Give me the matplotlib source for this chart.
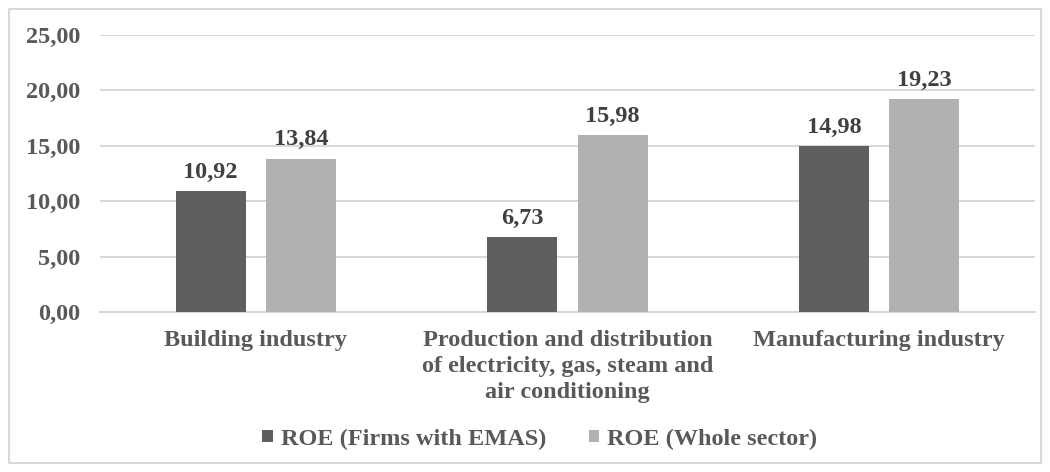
import numpy as np
import matplotlib.pyplot as plt
from matplotlib.patches import Rectangle

# Dados de ROE por setor
setores = ['Building industry',
           'Production and distribution\nof electricity, gas, steam and\nair conditioning',
           'Manufacturing industry']
roe_emas = [10.92, 6.73, 14.98]
roe_setor = [13.84, 15.98, 19.23]
series = ['ROE (Firms with EMAS)', 'ROE (Whole sector)']

cor_escura = '#5f5f5f'
cor_clara = '#b1b1b1'
cor_texto = '#595959'
cor_grade = '#d9d9d9'
tam_fonte = 17.5

plt.rcParams['font.family'] = ['Liberation Serif', 'DejaVu Serif']
plt.rcParams['font.weight'] = 'bold'

fig = plt.figure(figsize=(10.5, 4.72), dpi=100)
ax = fig.add_axes([0.0952, 0.339, 0.8905, 0.587])

# Moldura do gráfico
fig.patches.append(Rectangle((9/1050, 9/472), 1 - 18/1050, 1 - 18/472,
                             transform=fig.transFigure, fill=False,
                             edgecolor=cor_grade, linewidth=1.5))

x = np.arange(len(setores))
largura = 0.225
desloc = 0.145

b1 = ax.bar(x - desloc, roe_emas, largura, color=cor_escura, label=series[0], zorder=3)
b2 = ax.bar(x + desloc, roe_setor, largura, color=cor_clara, label=series[1], zorder=3)

# Valores acima das barras
for barras in (b1, b2):
    for bar in barras:
        v = bar.get_height()
        ax.annotate(f'{v:.2f}'.replace('.', ','),
                    (bar.get_x() + bar.get_width() / 2, v),
                    xytext=(0, 6), textcoords='offset points',
                    ha='center', va='bottom', fontsize=tam_fonte,
                    fontweight='bold', color='#404040')

ax.set_xlim(-0.5, 2.5)
ax.set_ylim(0, 25)
ax.set_yticks(np.arange(0, 26, 5))
ax.set_yticklabels([f'{t:.2f}'.replace('.', ',') for t in np.arange(0, 26, 5)])
ax.set_xticks(x)
ax.set_xticklabels(setores, linespacing=1.3)
ax.tick_params(axis='both', length=0, labelsize=tam_fonte, colors=cor_texto)
ax.tick_params(axis='y', pad=14)
ax.tick_params(axis='x', pad=13)
ax.yaxis.grid(True, color=cor_grade, linewidth=1.5, zorder=0)
ax.set_axisbelow(True)
for lado in ['top', 'right', 'left']:
    ax.spines[lado].set_visible(False)
ax.spines['bottom'].set_color(cor_grade)
ax.spines['bottom'].set_linewidth(1.5)

leg = fig.legend(loc='center', bbox_to_anchor=(0.514, 0.07), ncol=2,
                 frameon=False, fontsize=tam_fonte, handlelength=0.42,
                 handleheight=0.42, handletextpad=0.33, columnspacing=1.75)
for t in leg.get_texts():
    t.set_color(cor_texto)

fig.savefig('out.png', dpi=100)
